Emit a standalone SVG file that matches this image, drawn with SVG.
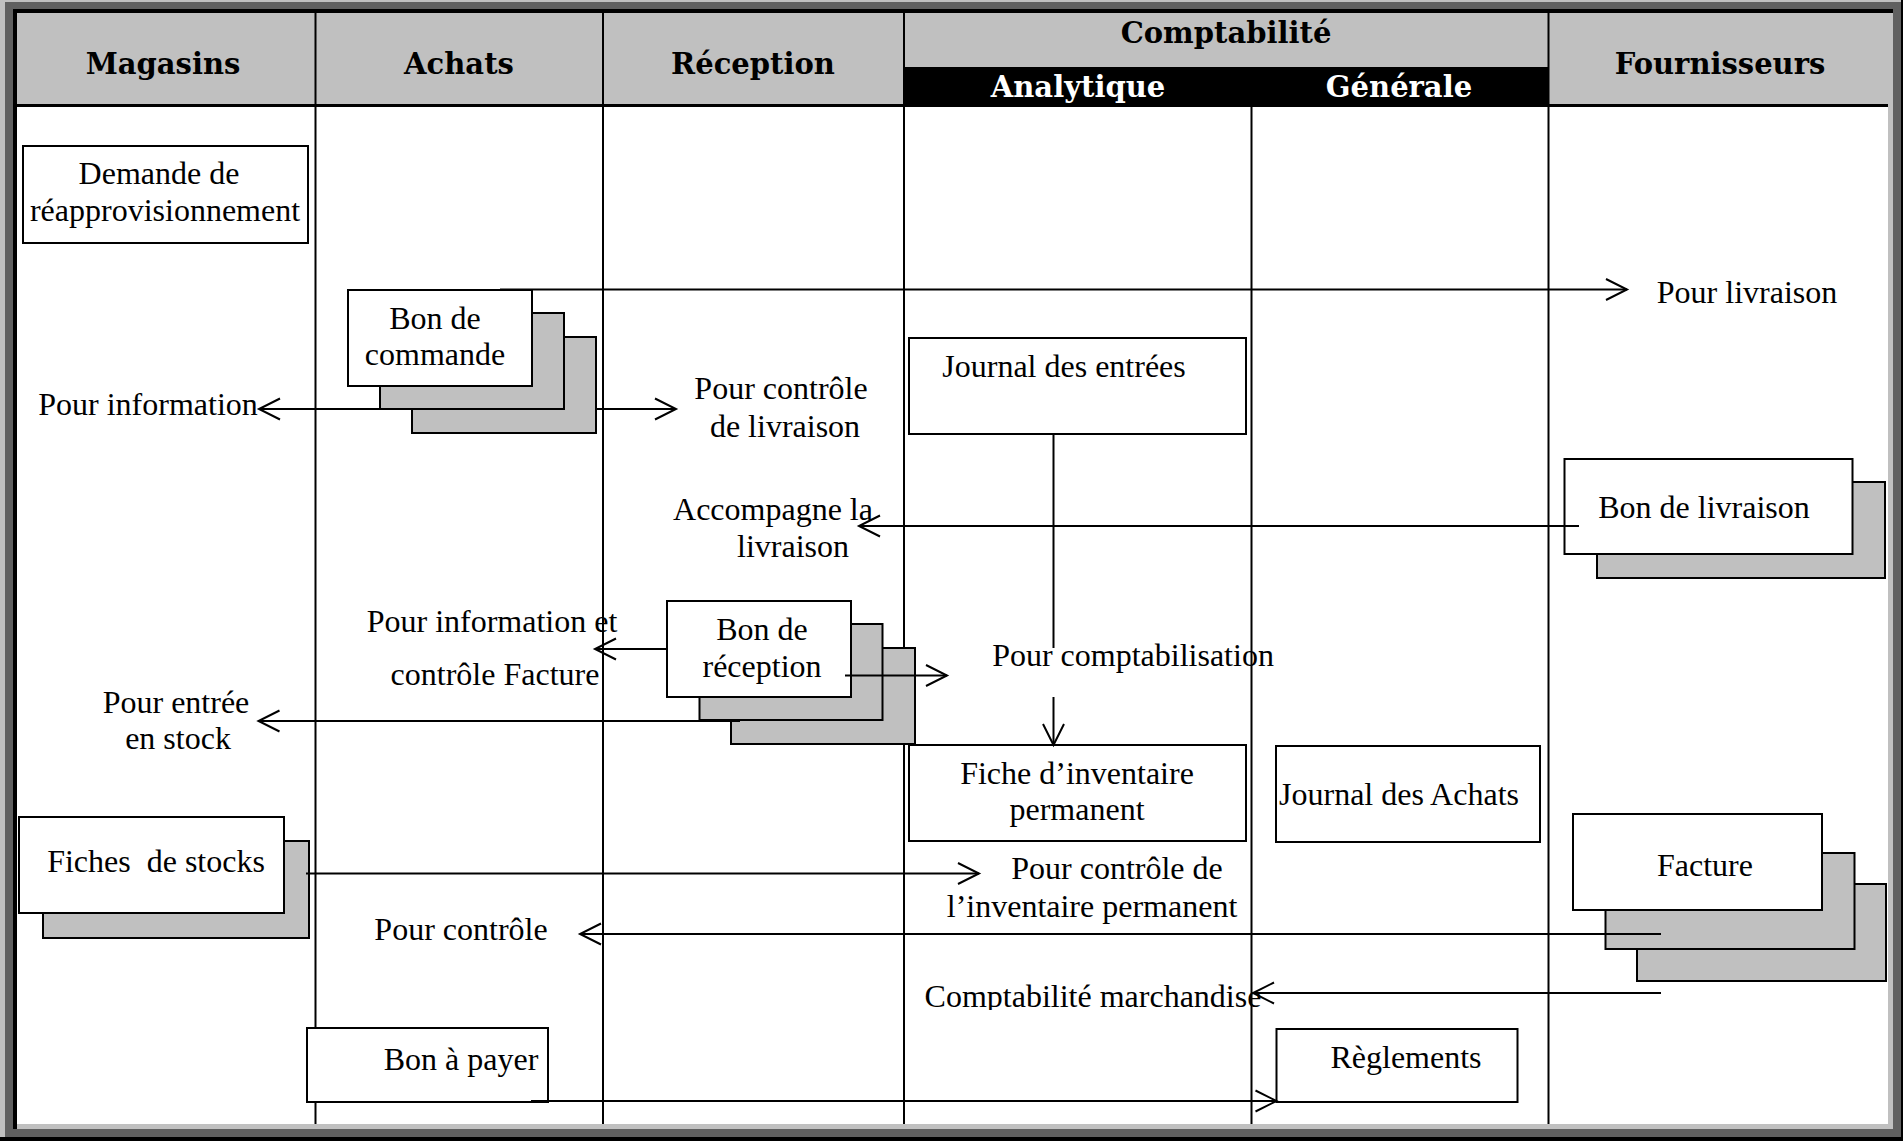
<svg xmlns="http://www.w3.org/2000/svg" width="1903" height="1141" viewBox="0 0 1903 1141">
<style>
.hd{font-family:"DejaVu Serif",serif;font-weight:bold;font-size:29px;text-anchor:middle;fill:#000}
.hdw{fill:#fff}
.t{font-family:"Liberation Serif","Times New Roman",serif;font-size:32px;text-anchor:middle;fill:#000}
.box{fill:#fff;stroke:#000;stroke-width:2}
.sh{fill:#c0c0c0;stroke:#000;stroke-width:2}
.col{stroke:#000;stroke-width:2}
.cn{stroke:#000;stroke-width:2;fill:none}
.arr{marker-end:url(#ah)}
</style>
<defs>
<marker id="ah" markerUnits="userSpaceOnUse" viewBox="-24 -13 26 26" refX="0" refY="0" markerWidth="26" markerHeight="26" orient="auto" overflow="visible">
<path d="M-21,-10.5 L0,0 L-21,10.5" fill="none" stroke="#000" stroke-width="2"/>
</marker>
<clipPath id="clipCM"><rect x="900" y="960" width="400" height="50"/></clipPath>
</defs>
<g id="frame">
<rect x="0" y="0" width="1903" height="1141" fill="#000"/>
<rect x="0" y="0" width="1901" height="1137" fill="#c0c0c0"/>
<rect x="5" y="2" width="1896" height="1135" fill="#606060"/>
<rect x="13" y="9" width="1880" height="1120" fill="#c0c0c0"/>
<rect x="13" y="9" width="1880" height="4" fill="#000"/>
<rect x="13" y="9" width="4" height="1120" fill="#000"/>
<rect x="17" y="13" width="1871" height="1111" fill="#fff"/>
</g>
<g id="header">
<rect x="17" y="13" width="1871" height="92" fill="#c0c0c0"/>
<rect x="904" y="67" width="645" height="40" fill="#000"/>
<rect x="17" y="104" width="1871" height="3" fill="#000"/>
<line class="col" x1="315.5" y1="13" x2="315.5" y2="105"/>
<line class="col" x1="603" y1="13" x2="603" y2="105"/>
<line class="col" x1="904" y1="13" x2="904" y2="105"/>
<line class="col" x1="1548.5" y1="13" x2="1548.5" y2="105"/>
<text class="hd" x="163" y="74">Magasins</text>
<text class="hd" x="459" y="74">Achats</text>
<text class="hd" x="753" y="74">Réception</text>
<text class="hd" x="1226" y="43">Comptabilité</text>
<text class="hd hdw" x="1078" y="97">Analytique</text>
<text class="hd hdw" x="1399" y="97">Générale</text>
<text class="hd" x="1720" y="74">Fournisseurs</text>
</g>
<g id="lanes">
<line class="col" x1="315.5" y1="107" x2="315.5" y2="1124"/>
<line class="col" x1="603" y1="107" x2="603" y2="1124"/>
<line class="col" x1="904" y1="107" x2="904" y2="1124"/>
<line class="col" x1="1251.5" y1="107" x2="1251.5" y2="1124"/>
<line class="col" x1="1548.5" y1="107" x2="1548.5" y2="1124"/>
</g>
<g id="demande">
<rect class="box" x="23" y="146" width="285" height="97"/>
<text class="t" x="159" y="184">Demande de</text>
<text class="t" x="165" y="221">réapprovisionnement</text>
</g>
<g id="bon-commande">
<rect class="sh" x="412" y="337" width="184" height="96"/>
<rect class="sh" x="380" y="313" width="184" height="96"/>
<rect class="box" x="348" y="290" width="184" height="96"/>
<text class="t" x="435" y="329">Bon de</text>
<text class="t" x="435" y="365">commande</text>
</g>
<g id="journal-entrees">
<rect class="box" x="909" y="338" width="337" height="96"/>
<text class="t" x="1064" y="377">Journal des entrées</text>
</g>
<g id="bon-livraison">
<rect class="sh" x="1597" y="482" width="288" height="96"/>
<rect class="box" x="1564.5" y="459" width="288" height="95"/>
<text class="t" x="1704" y="518">Bon de livraison</text>
</g>
<g id="bon-reception">
<rect class="sh" x="731" y="648" width="184" height="96"/>
<rect class="sh" x="699.5" y="624" width="183" height="96"/>
<rect class="box" x="667" y="601" width="184" height="96"/>
<text class="t" x="762" y="640">Bon de</text>
<text class="t" x="762" y="677">réception</text>
</g>
<g id="fiche-inventaire">
<rect class="box" x="909" y="745" width="337" height="96"/>
<text class="t" x="1077" y="784">Fiche d’inventaire</text>
<text class="t" x="1077" y="820">permanent</text>
</g>
<g id="journal-achats">
<rect class="box" x="1276" y="746" width="264" height="96"/>
<text class="t" x="1399" y="805">Journal des Achats</text>
</g>
<g id="fiches-stocks">
<rect class="sh" x="43" y="841" width="266" height="97"/>
<rect class="box" x="19" y="817" width="265" height="96"/>
<text class="t" x="156" y="872" xml:space="preserve">Fiches  de stocks</text>
</g>
<g id="facture">
<rect class="sh" x="1637" y="884" width="249" height="97"/>
<rect class="sh" x="1605.5" y="853" width="249" height="96"/>
<rect class="box" x="1573" y="814" width="249" height="96"/>
<text class="t" x="1705" y="876">Facture</text>
</g>
<g id="bon-a-payer">
<rect class="box" x="307" y="1028" width="241" height="74"/>
<text class="t" x="461" y="1070">Bon à payer</text>
</g>
<g id="reglements">
<rect class="box" x="1276.5" y="1029" width="241" height="73"/>
<text class="t" x="1406" y="1068">Règlements</text>
</g>
<g id="connectors">
<line class="cn arr" x1="500" y1="289.5" x2="1627" y2="289.5"/>
<text class="t" x="1747" y="303">Pour livraison</text>
<line class="cn arr" x1="404" y1="409" x2="259" y2="409"/>
<text class="t" x="148" y="415">Pour information</text>
<line class="cn arr" x1="596" y1="409" x2="676" y2="409"/>
<text class="t" x="781" y="399">Pour contrôle</text>
<text class="t" x="785" y="437">de livraison</text>
<line class="cn arr" x1="1579" y1="526" x2="859" y2="526"/>
<text class="t" x="773" y="520">Accompagne la</text>
<text class="t" x="793" y="557">livraison</text>
<line class="cn" x1="1053.5" y1="434" x2="1053.5" y2="648"/>
<line class="cn arr" x1="1053.5" y1="697" x2="1053.5" y2="745"/>
<text class="t" x="1133" y="666">Pour comptabilisation</text>
<line class="cn arr" x1="667" y1="649" x2="595" y2="649"/>
<text class="t" x="492" y="632">Pour information et</text>
<text class="t" x="495" y="685">contrôle Facture</text>
<line class="cn arr" x1="845" y1="675.5" x2="947" y2="675.5"/>
<line class="cn arr" x1="740" y1="721" x2="258.5" y2="721"/>
<text class="t" x="176" y="713">Pour entrée</text>
<text class="t" x="178" y="749">en stock</text>
<line class="cn arr" x1="306" y1="873.5" x2="979" y2="873.5"/>
<text class="t" x="1117" y="879">Pour contrôle de</text>
<text class="t" x="1092" y="917">l’inventaire permanent</text>
<line class="cn arr" x1="1661" y1="934" x2="580" y2="934"/>
<text class="t" x="461" y="940">Pour contrôle</text>
<line class="cn arr" x1="1661" y1="993" x2="1253" y2="993"/>
<text class="t" x="1093" y="1007" clip-path="url(#clipCM)">Comptabilité marchandise</text>
<line class="cn arr" x1="531" y1="1101" x2="1276.5" y2="1101"/>
</g>
</svg>
